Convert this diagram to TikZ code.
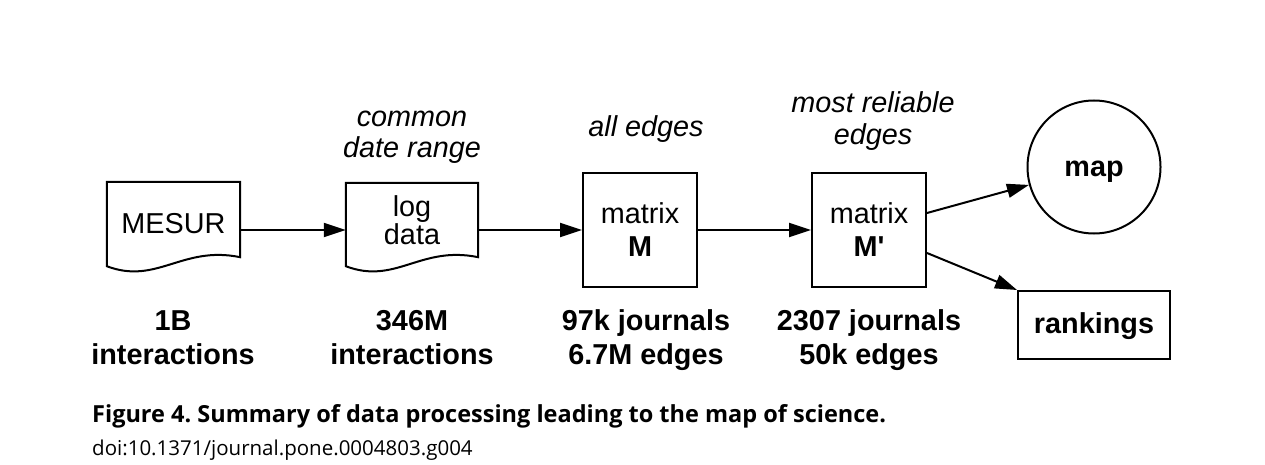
\documentclass[tikz,border=0pt]{standalone}
\usepackage{fontspec}
\setmainfont{Liberation Sans}[Ligatures=TeXOff]
\newfontfamily\capfont{Open Sans}
\usetikzlibrary{arrows.meta}
\tikzset{
  base/.style={font=\fontsize{28.8}{32}\selectfont},
  lbl/.style={base, align=center, inner sep=0pt},
  boxed/.style={base, draw, line width=2pt, minimum width=114pt, minimum height=114pt, align=center, inner sep=0pt},
  docnode/.style={base, minimum width=133pt, minimum height=84pt, align=center, inner sep=0pt},
  doc/.style={line width=2pt, line join=miter},
  conn/.style={line width=2pt, -{Triangle[length=22pt,width=14pt]}},
}
\begin{document}
\frenchspacing
\begin{tikzpicture}[x=1pt,y=-1pt]
\useasboundingbox[fill=white] (0,0) rectangle (1265,465);

% document shapes
\node[docnode] (mesur) at (173.5,224) {MESUR};
\draw[doc] (mesur.south west) -- (mesur.north west) -- (mesur.north east) -- ([yshift=9pt]mesur.south east)
  .. controls +(-58,-12) and +(50,19) .. (mesur.south west) -- cycle;

\node[docnode, minimum width=132pt, minimum height=83pt] (logd) at (412,224.5) {\raisebox{-6pt}{\begin{tabular}{@{}c@{}}log\\[-4pt]data\end{tabular}}};
\draw[doc] (logd.south west) -- (logd.north west) -- (logd.north east) -- ([yshift=9pt]logd.south east)
  .. controls +(-58,-12) and +(50,19) .. (logd.south west) -- cycle;

% matrices
\node[boxed] (mm) at (640,230) {matrix\\[1pt]\textbf{M}};
\node[boxed] (mp) at (869,230) {matrix\\[1pt]\textbf{M'}};

% outputs
\node[draw, circle, line width=2pt, minimum size=133pt, inner sep=0pt, text height=18pt, text depth=0pt, font=\fontsize{28.8}{32}\selectfont\bfseries] (map) at (1094,167) {map};
\node[draw, line width=2pt, minimum width=152pt, minimum height=68pt, inner sep=0pt, text height=16pt, text depth=0pt, font=\fontsize{28.8}{32}\selectfont\bfseries] (rank) at (1094,325) {rankings};

% connectors
\draw[conn] (mesur.east |- mm.west) -- (logd.west |- mm.west);
\draw[conn] (logd.east |- mm.west) -- (mm.west);
\draw[conn] (mm.east) -- (mp.west);
\draw[conn] ([yshift=17pt]mp.east) -- (map);
\draw[conn] ([yshift=-23pt]mp.east) -- (rank.north west);

% labels above
\node[lbl, font=\fontsize{28.8}{31}\selectfont\itshape, anchor=base] (tcommon) at (412,158) {common\\date range};
\node[lbl, font=\fontsize{28.8}{32}\selectfont\itshape, anchor=base] (tall) at (646,137) {all edges};
\node[lbl, font=\fontsize{28.8}{32}\selectfont\itshape, anchor=base] (tmost) at (873,145) {most reliable\\edges};

% labels below
\node[lbl, font=\fontsize{28.8}{34}\selectfont\bfseries, anchor=base] (b1) at (173,364) {1B\\interactions};
\node[lbl, font=\fontsize{28.8}{34}\selectfont\bfseries, anchor=base] (b2) at (412,364) {346M\\interactions};
\node[lbl, font=\fontsize{28.8}{34}\selectfont\bfseries, anchor=base] (b3) at (646,364) {97k journals\\6.7M edges};
\node[lbl, font=\fontsize{28.8}{34}\selectfont\bfseries, anchor=base] (b4) at (869,364) {2307 journals\\50k edges};

% caption
\node[anchor=base west, inner sep=0pt, font=\capfont\fontsize{23.5}{27}\selectfont\bfseries] (cap) at (92,422) {Figure 4. Summary of data processing leading to the map of science.};
\node[anchor=base west, inner sep=0pt, font=\capfont\fontsize{20.5}{25}\selectfont] (doi) at (92,455) {doi:10.1371/journal.pone.0004803.g004};
\end{tikzpicture}
\end{document}
